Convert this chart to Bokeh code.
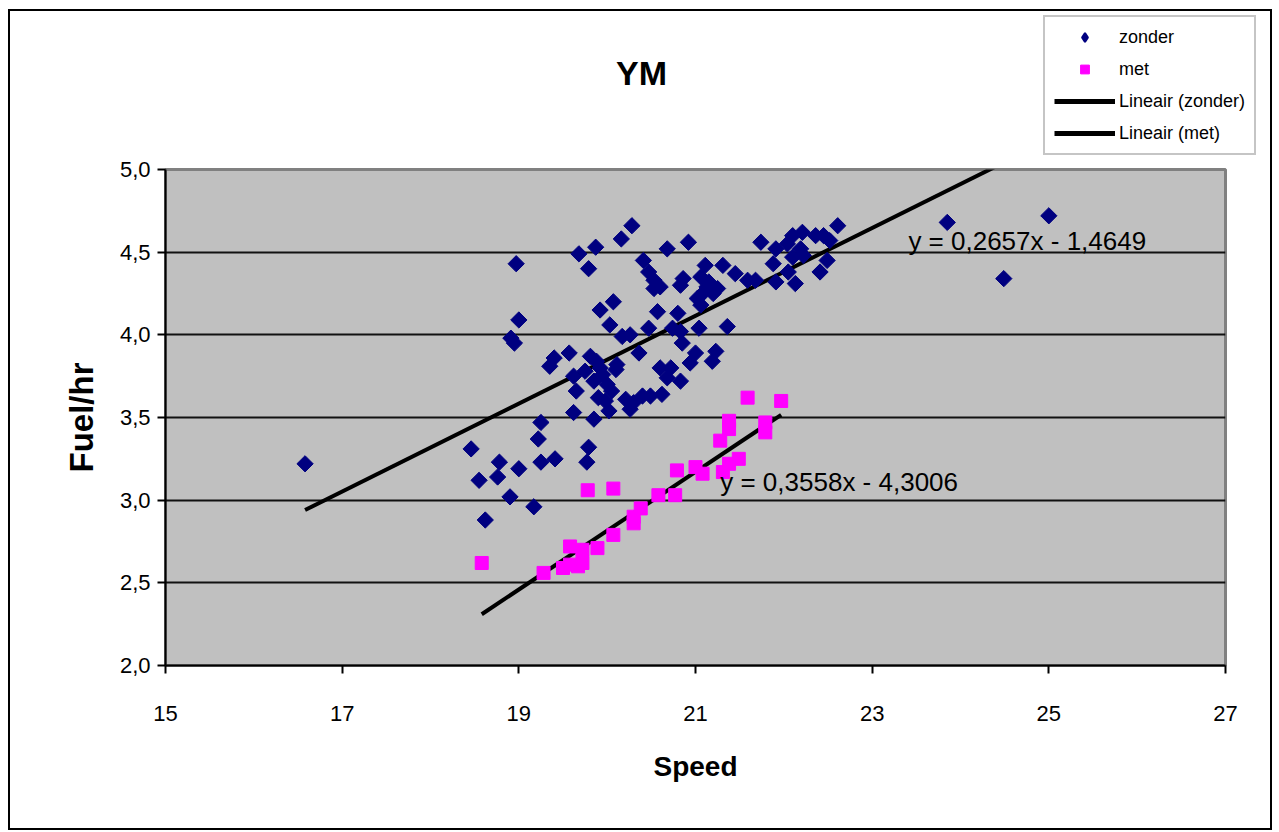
import math
from bokeh.plotting import figure
from bokeh.layouts import column
from bokeh.models import (Range1d, FixedTicker, Label, Legend, LegendItem)
from bokeh.embed import file_html
from bokeh.resources import INLINE

# ---------------- data ----------------
zonder_x = [16.58, 18.46, 18.55, 18.62, 18.78, 18.76, 18.90, 18.91, 18.95, 18.97,
            19.00, 19.00, 19.17, 19.25, 19.22, 19.25, 19.41, 19.35, 19.40, 19.57,
            19.62, 19.65, 19.62, 19.85, 19.79, 19.77, 19.68, 19.87, 19.79, 19.92,
            20.07, 20.03, 19.81, 19.88, 19.75, 19.85, 19.95, 20.00, 19.90, 20.02,
            19.98, 20.05, 19.92, 20.10, 20.11, 20.17, 20.26, 20.36, 20.21, 20.30,
            20.40, 20.49, 20.62, 20.26, 20.16, 20.28, 20.68, 20.92, 20.41, 20.47,
            20.53, 20.53, 20.60, 20.86, 20.83, 20.57, 20.80, 20.47, 20.74, 20.83,
            20.85, 21.00, 20.94, 20.60, 20.72, 20.68, 20.83, 21.23, 21.19, 21.04,
            21.36, 21.11, 21.31, 21.45, 21.06, 21.13, 21.20, 21.02, 21.06, 21.15,
            21.25, 21.10, 21.59, 21.68, 21.74, 21.88, 21.91, 21.91, 22.04, 22.05,
            22.10, 22.10, 22.13, 22.19, 22.21, 22.22, 22.36, 22.41, 22.45, 22.49,
            22.61, 22.52, 23.85, 24.49, 25.00]
zonder_y = [3.22, 3.31, 3.12, 2.88, 3.23, 3.14, 3.02, 3.98, 3.95, 4.43,
            4.09, 3.19, 2.96, 3.47, 3.37, 3.23, 3.25, 3.81, 3.86, 3.89,
            3.75, 3.66, 3.53, 3.49, 3.32, 3.23, 4.49, 4.53, 4.40, 4.15,
            4.20, 4.06, 3.87, 3.84, 3.78, 3.72, 3.76, 3.70, 3.62, 3.54,
            3.60, 3.66, 3.80, 3.79, 3.82, 3.99, 4.00, 3.89, 3.61, 3.59,
            3.63, 3.63, 3.64, 3.55, 4.58, 4.66, 4.52, 4.56, 4.45, 4.38,
            4.33, 4.28, 4.29, 4.34, 4.30, 4.14, 4.13, 4.04, 4.04, 4.02,
            3.95, 3.89, 3.83, 3.80, 3.80, 3.74, 3.72, 3.90, 3.84, 4.04,
            4.05, 4.42, 4.42, 4.37, 4.35, 4.29, 4.25, 4.22, 4.18, 4.32,
            4.28, 4.26, 4.33, 4.33, 4.56, 4.43, 4.52, 4.32, 4.55, 4.38,
            4.60, 4.47, 4.31, 4.52, 4.62, 4.48, 4.60, 4.38, 4.60, 4.45,
            4.66, 4.57, 4.68, 4.34, 4.72]

met_x = [18.58, 19.28, 19.50, 19.58, 19.58, 19.67, 19.72, 19.72, 19.78, 19.89,
         20.07, 20.07, 20.30, 20.30, 20.38, 20.58, 20.77, 20.79, 21.00, 21.08,
         21.31, 21.28, 21.38, 21.38, 21.38, 21.49, 21.59, 21.79, 21.79, 21.97]
met_y = [2.62, 2.56, 2.59, 2.61, 2.72, 2.60, 2.62, 2.70, 3.06, 2.71,
         3.07, 2.79, 2.86, 2.90, 2.95, 3.03, 3.03, 3.18, 3.20, 3.16,
         3.17, 3.36, 3.48, 3.43, 3.22, 3.25, 3.62, 3.47, 3.41, 3.60]

# linear trend coefficients shown on the chart (slope, intercept)
trend_zonder = (0.2657, -1.4649)
trend_met = (0.3558, -4.3006)

series_names = ["zonder", "met", "Lineair (zonder)", "Lineair (met)"]
chart_title = "YM"
x_label = "Speed"
y_label = "Fuel/hr"
x_ticks = [15, 17, 19, 21, 23, 25, 27]
y_ticks = [2.0, 2.5, 3.0, 3.5, 4.0, 4.5, 5.0]
y_tick_labels = ["2,0", "2,5", "3,0", "3,5", "4,0", "4,5", "5,0"]

FONT = "Liberation Sans"
NAVY = "#000080"
MAGENTA = "#FF00FF"

zx = [min(zonder_x), max(zonder_x)]
zy = [trend_zonder[0] * v + trend_zonder[1] for v in zx]
mx = [min(met_x), max(met_x)]
my = [trend_met[0] * v + trend_met[1] for v in mx]

# ---------------- main chart ----------------
p = figure(width=1260, height=672, x_range=Range1d(15, 27), y_range=Range1d(2, 5),
           output_backend="svg", toolbar_location=None, title=None,
           min_border_left=155, min_border_right=45, min_border_top=13,
           min_border_bottom=163)
p.frame_align = False
p.background_fill_color = "#C0C0C0"
p.border_fill_color = "white"
p.outline_line_color = "#808080"
p.outline_line_width = 3

p.xaxis.ticker = FixedTicker(ticks=x_ticks)
p.yaxis.ticker = FixedTicker(ticks=y_ticks)
p.yaxis.major_label_overrides = {t: l for t, l in zip(y_ticks, y_tick_labels)}
for ax in (p.xaxis[0], p.yaxis[0]):
    ax.axis_line_color = "black"
    ax.axis_line_width = 2
    ax.major_tick_line_color = "black"
    ax.major_tick_line_width = 2
    ax.major_tick_out = 8
    ax.major_tick_in = 0
    ax.minor_tick_line_color = None
    ax.major_label_text_font = FONT
    ax.major_label_text_font_size = "22px"
    ax.major_label_text_color = "black"
    ax.axis_label_text_font = FONT
    ax.axis_label_text_font_style = "bold"
    ax.axis_label_text_color = "black"
p.xaxis.major_label_standoff = 32
p.yaxis.major_label_standoff = 7
p.xaxis.axis_label = x_label
p.yaxis.axis_label = y_label
p.xaxis.axis_label_text_font_size = "28px"
p.yaxis.axis_label_text_font_size = "33px"
p.xaxis.axis_label_standoff = 27
p.yaxis.axis_label_standoff = 17

p.xgrid.grid_line_color = None
p.ygrid.grid_line_color = "#111111"
p.ygrid.grid_line_width = 2

p.line(zx, zy, line_color="black", line_width=4)
p.line(mx, my, line_color="black", line_width=4)
p.scatter(zonder_x, zonder_y, marker="square", size=11.5, angle=math.pi / 4,
          fill_color=NAVY, line_color=NAVY)
p.scatter(met_x, met_y, marker="square", size=13, fill_color=MAGENTA, line_color=MAGENTA)


def eq(c):
    return f"y = {c[0]:.4f}x - {abs(c[1]):.4f}".replace(".", ",")


p.add_layout(Label(x=23.41, y=4.565, text=eq(trend_zonder), text_font=FONT,
                   text_font_size="26px", text_baseline="middle", text_color="black"))
p.add_layout(Label(x=21.28, y=3.107, text=eq(trend_met), text_font=FONT,
                   text_font_size="26px", text_baseline="middle", text_color="black"))

# ---------------- header: title + legend ----------------
h = figure(width=1260, height=145, x_range=Range1d(0, 1), y_range=Range1d(0, 1),
           output_backend="svg", toolbar_location=None, title=None,
           x_axis_type=None, y_axis_type=None,
           min_border_left=0, min_border_right=0, min_border_top=0, min_border_bottom=0)
h.frame_align = False
h.outline_line_color = None
h.background_fill_color = "white"
h.border_fill_color = "white"
h.xgrid.grid_line_color = None
h.ygrid.grid_line_color = None

h.add_layout(Label(x=631, y=84, x_units="screen", y_units="screen", text=chart_title,
                   text_font=FONT, text_font_size="34px", text_font_style="bold",
                   text_align="center", text_baseline="middle", text_color="black"))

# legend swatches: same series, but outside this header's (0..1) view, so only
# the legend shows them
lz = h.scatter(zonder_x, zonder_y, marker="diamond", size=11,
               fill_color=NAVY, line_color=NAVY, line_width=2)
lm = h.scatter(met_x, met_y, marker="square", size=11, fill_color=MAGENTA,
               line_color=MAGENTA)
llz = h.line(zx, zy, line_color="black", line_width=5)
llm = h.line(mx, my, line_color="black", line_width=5)

legend = Legend(items=[LegendItem(label=series_names[0], renderers=[lz]),
                       LegendItem(label=series_names[1], renderers=[lm]),
                       LegendItem(label=series_names[2], renderers=[llz]),
                       LegendItem(label=series_names[3], renderers=[llm])],
                location=(1033, 1))
legend.label_text_font = FONT
legend.label_text_font_size = "18px"
legend.label_text_color = "black"
legend.glyph_width = 61
legend.glyph_height = 22
legend.label_height = 22
legend.label_standoff = 4
legend.spacing = 10
legend.padding = 9
legend.margin = 0
legend.border_line_color = "#8C8C8C"
legend.border_line_width = 2
legend.background_fill_color = "white"
legend.background_fill_alpha = 1
h.add_layout(legend, "center")

page = column(h, p, spacing=0, margin=(9, 0, 0, 8),
              styles={"border": "2px solid black"})

open("out.html", "w").write(file_html(page, INLINE))
